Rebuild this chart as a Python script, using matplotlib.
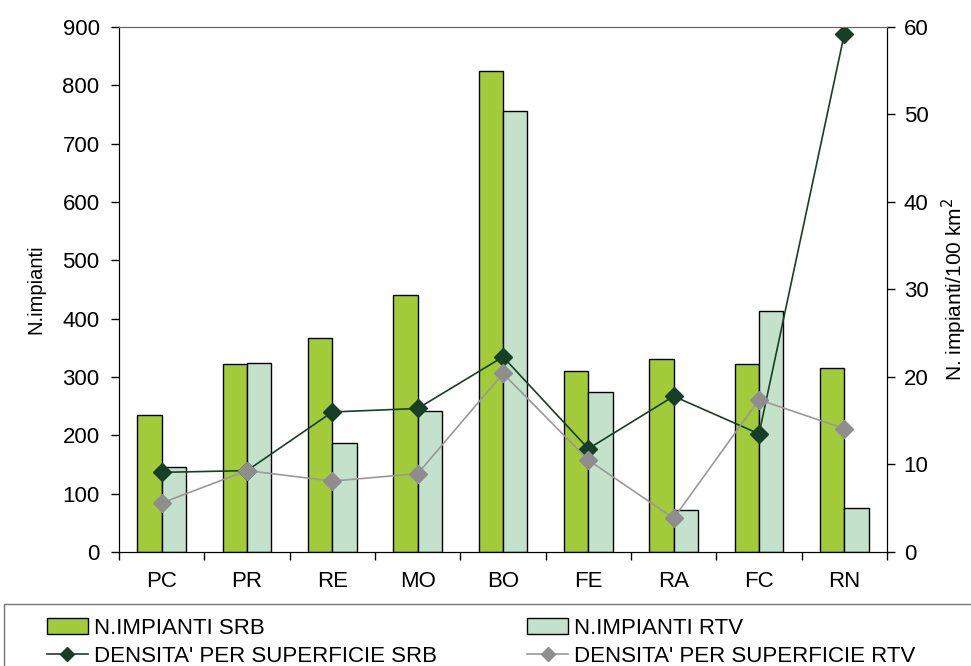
import matplotlib
matplotlib.use('Agg')
import matplotlib.pyplot as plt
import numpy as np
from matplotlib.patches import Rectangle, Patch
from matplotlib.lines import Line2D

plt.rcParams['font.family'] = ['Liberation Sans', 'DejaVu Sans']

provinces = ['PC', 'PR', 'RE', 'MO', 'BO', 'FE', 'RA', 'FC', 'RN']
n_srb = [235, 322, 367, 440, 825, 310, 331, 322, 316]
n_rtv = [146, 324, 187, 242, 756, 275, 72, 413, 75]
dens_srb = [9.1, 9.3, 16.0, 16.4, 22.3, 11.8, 17.8, 13.5, 59.2]
dens_rtv = [5.6, 9.3, 8.1, 8.95, 20.4, 10.5, 3.85, 17.4, 14.1]

c_srb = '#A2CB3A'
c_rtv = '#C3E1CB'
c_line_srb = '#173F27'
c_line_rtv = '#999999'
c_mark_rtv = '#8E8E8E'

fig = plt.figure(figsize=(9.71, 6.66), dpi=100)
ax = fig.add_axes([0.1226, 0.1712, 0.7909, 0.7883])
ax2 = ax.twinx()

x = np.arange(len(provinces))
w = 0.285
ax.bar(x - w / 2, n_srb, w, color=c_srb, edgecolor='black', linewidth=1, zorder=2)
ax.bar(x + w / 2, n_rtv, w, color=c_rtv, edgecolor='black', linewidth=1, zorder=2)

ax2.plot(x, dens_srb, color=c_line_srb, lw=1.2, marker='D', markersize=9,
         markerfacecolor=c_line_srb, markeredgecolor=c_line_srb)
ax2.plot(x, dens_rtv, color=c_line_rtv, lw=1.2, marker='D', markersize=9,
         markerfacecolor=c_mark_rtv, markeredgecolor=c_mark_rtv)

ax.set_xlim(-0.5, len(provinces) - 0.5)
ax.set_ylim(0, 900)
ax2.set_ylim(0, 60)
ax.set_yticks(range(0, 901, 100))
ax2.set_yticks(range(0, 61, 10))

# category boundaries get the tick marks, labels sit in the middle
ax.set_xticks(np.arange(-0.5, len(provinces), 1.0))
ax.set_xticklabels([])
ax.set_xticks(x, minor=True)
ax.set_xticklabels(provinces, minor=True)
ax.tick_params(axis='x', which='major', direction='out', length=6, width=1)
ax.tick_params(axis='x', which='minor', length=0, pad=14, labelsize=16)
ax.tick_params(axis='y', direction='out', length=6, width=1, labelsize=16, pad=8)
ax2.tick_params(axis='y', direction='out', length=6, width=1, labelsize=16, pad=6)

for a in (ax, ax2):
    a.spines['top'].set_color('#666666')
    a.spines['left'].set_color('black')
    a.spines['right'].set_color('black')
    a.spines['bottom'].set_color('black')

ax.set_ylabel('N.impianti', fontsize=14.5, labelpad=12)
ax2.set_ylabel('N. impianti/100 km$^2$', fontsize=15, labelpad=8)

# legend box along the bottom edge
fig.patches.append(Rectangle((0.004, -0.05), 1.1, 0.143, transform=fig.transFigure,
                             fill=False, edgecolor='#777777', lw=1))

leg_kw = dict(loc='upper left', frameon=False, fontsize=16, handlelength=1.85,
              handletextpad=0.27, labelspacing=0.32, borderpad=0, borderaxespad=0)
h1 = [Patch(facecolor=c_srb, edgecolor='black'),
      Line2D([], [], color=c_line_srb, marker='D', markersize=7, lw=1.2)]
h2 = [Patch(facecolor=c_rtv, edgecolor='black'),
      Line2D([], [], color=c_line_rtv, marker='D', markersize=7, lw=1.2,
             markerfacecolor=c_mark_rtv, markeredgecolor=c_mark_rtv)]
fig.legend(h1, ['N.IMPIANTI SRB', "DENSITA' PER SUPERFICIE SRB"],
           bbox_to_anchor=(0.048, 0.072), **leg_kw)
fig.legend(h2, ['N.IMPIANTI RTV', "DENSITA' PER SUPERFICIE RTV"],
           bbox_to_anchor=(0.543, 0.072), **leg_kw)

fig.savefig('out.png', dpi=100)
